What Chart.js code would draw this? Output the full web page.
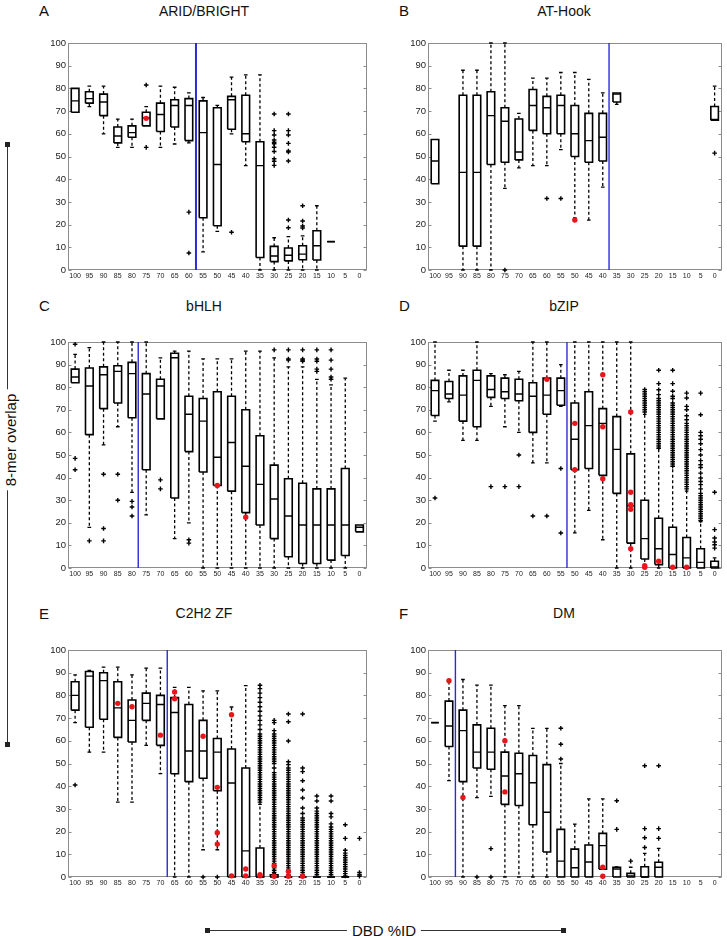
<!DOCTYPE html>
<html><head><meta charset="utf-8">
<script src="https://cdn.jsdelivr.net/npm/chart.js@4.4.1/dist/chart.umd.min.js"></script>
<style>
html,body{margin:0;padding:0;background:#fff;}
body{width:727px;height:936px;position:relative;overflow:hidden;font-family:'Liberation Sans',Arial,Helvetica,sans-serif;}
canvas{position:absolute;}
.t{position:absolute;line-height:1;white-space:nowrap;color:#111;}
.title{font-size:14px;width:200px;text-align:center;}
.letter{font-size:15px;}
.axlbl{font-size:15px;background:#fff;transform:translate(-50%,-50%);}
.ln{position:absolute;background:#333;}
.sq{position:absolute;width:5px;height:5px;background:#222;}
</style></head><body>
<div class="ln" style="left:7px;top:144px;width:1.4px;height:600px;"></div>
<div class="sq" style="left:5px;top:142px;"></div>
<div class="sq" style="left:5px;top:742px;"></div>
<div class="t axlbl" style="left:10px;top:440px;padding:0 4px;transform:translate(-50%,-50%) rotate(-90deg);">8-mer overlap</div>
<div class="ln" style="left:207px;top:929.5px;width:356px;height:1.4px;"></div>
<div class="sq" style="left:205px;top:928px;"></div>
<div class="sq" style="left:561px;top:928px;"></div>
<div class="t axlbl" style="left:384px;top:930px;padding:0 5px;">DBD %ID</div>
<script>
// ---------------- data ----------------
const CATS = ['100','95','90','85','80','75','70','65','60','55','50','45','40','35','30','25','20','15','10','5','0'];
const Y_TICKS = [0,10,20,30,40,50,60,70,80,90,100];
const TITLES = ['ARID/BRIGHT','AT-Hook','bHLH','bZIP','C2H2 ZF','DM'];
const LETTERS = ['A','B','C','D','E','F'];

// A: ARID/BRIGHT
const A_lo  = [69.5, 72, 60, 54, 54, 63.5, 54, 55.5, 56, 8, 17, 60, 46, 0, 0, 0, 0, 0, 12.5, null, null];
const A_q1  = [69.5, 73.5, 68, 56, 58.5, 63.5, 61, 63, 57, 23, 19.5, 62, 56.5, 5.5, 3.7, 4, 4.5, 4.4, 12.5, null, null];
const A_med = [74.5, 75.5, 74, 59, 60.5, 67, 68.5, 72.5, 72.5, 60.5, 46.5, 75, 60, 46, 6.2, 6.5, 7, 10.7, 12.5, null, null];
const A_q3  = [80, 78.5, 77.5, 63, 63.5, 69.5, 73.5, 75, 75.5, 74.5, 71.5, 76.5, 77, 56.5, 10.4, 9.7, 10.7, 17.3, 12.5, null, null];
const A_hi  = [80, 81, 81, 66.5, 66.5, 72, 81, 80.5, 78, 76, 72.5, 85, 86, 86, 14.2, 14.7, 15, 28.3, 12.5, null, null];
const A_out = [[],[],[],[],[],[81.5,54],[],[],[25.5,7.5],[],[],[16.6],[],[],
  [68.7,61.4,59.5,57.3,56.3,55.6,54.1,52.2,49,47.9,46.1],
  [68.7,61.4,59.5,55.8,52.4,52,48,22,18.6],
  [28.3,21.6,19.4,18.5],[],[],[],[]];
const A_red = [[],[],[],[],[],[66.8],[],[],[],[],[],[],[],[],[],[],[],[],[],[],[]];
const A_blue = 8.5;

// B: AT-Hook
const B_lo  = [38, null, 0, 0, 0, 36, 45, 46, 46, 53, 23, 22, 36.5, 73, null, null, null, null, null, null, 66];
const B_q1  = [38, null, 10.5, 10.5, 46.5, 47.5, 48.5, 61.5, 60, 60, 50, 47.5, 48, 74, null, null, null, null, null, null, 66];
const B_med = [48, null, 43, 43, 68, 65.5, 52, 72.5, 71.5, 72.5, 60, 57, 58.5, 77.5, null, null, null, null, null, null, 66.3];
const B_q3  = [57.5, null, 77, 77, 78.5, 71.5, 66.5, 79.5, 76.5, 77, 72.5, 69, 69, 78, null, null, null, null, null, null, 72];
const B_hi  = [57.5, null, 88, 88, 100, 100, 69, 84.5, 84.5, 87, 87, 84, 78, 78, null, null, null, null, null, null, 81];
const B_out = [[],[],[],[],[],[0],[],[],[31.5],[31.5],[],[],[],[],[],[],[],[],[],[],[51.5]];
const B_red = [[],[],[],[],[],[],[],[],[],[],[22],[],[],[],[],[],[],[],[],[],[]];
const B_blue = 12.45;

// C: bHLH
const C_lo  = [82, 18, 54.5, 62.5, 33.5, 23.5, 66, 13, 20, 0, 0, 0, 0, 0, 0, 0, 0, 0, 0, 0, 16];
const C_q1  = [82, 59, 70.5, 73, 66.5, 43.5, 66, 31, 51.5, 42.5, 36.5, 34, 24.5, 19, 13, 5, 2, 2, 3.5, 5.5, 16];
const C_med = [84.5, 80.5, 85.5, 87, 86, 77, 80.5, 93, 68, 65, 49, 55.5, 45, 37, 30.5, 23, 19, 19, 19, 19, 18];
const C_q3  = [88, 88.5, 89, 89.5, 91, 86, 83.5, 95, 76, 75, 78, 76, 70, 58.5, 45.5, 39.5, 37.5, 35, 35, 44, 19];
const C_hi  = [94.5, 97.5, 100, 100, 100, 100, 93, 96, 96, 92.5, 92.5, 92.5, 96, 96, 93, 89, 89, 83.5, 81, 84, 19];
const C_out = [[99,48.5,43.5],[12],[41.5,17.5,12],[41.5,30],[29.5,27,23],[],[39,35],[],[12.5,11],[],[],[],[],[],
  [96.5],[96.5,92.5,92],[96.5,92.5,92,91.5],[96.5,92.5,91.5,88,87],[96.5,92,88,84.5,83.5],[],[]];
const C_red = [[],[],[],[],[],[],[],[],[],[],[36.5],[],[22.5],[],[],[],[],[],[],[],[]];
const C_blue = 4.44;

// D: bZIP
const D_lo  = [65, 73.5, 56.5, 56.5, 71.5, 62.5, 60, 46.5, 46.5, 71.5, 15.5, 25.5, 12.5, 0, 0, 0, 0, 0, 0, 0, 0];
const D_q1  = [67.5, 75, 65, 62.5, 75.5, 75, 74, 60, 68, 72, 43.5, 44, 41, 33, 11, 4, 1.5, 0, 0, 0, 0];
const D_med = [78.5, 77, 76.5, 83, 79, 78, 77, 76, 76.5, 78.5, 57, 63, 64, 52.5, 27.5, 13, 8.5, 6, 4.5, 2.5, 0.5];
const D_q3  = [83, 82.5, 85, 87.5, 85, 84, 83.5, 82, 84, 84, 73, 78, 70.5, 67, 50.5, 30, 22, 18, 13.5, 8.5, 3];
const D_hi  = [100, 87.5, 87.5, 100, 86, 85.5, 87, 100, 100, 90, 100, 100, 100, 100, 100, 68, 53, 45, 34, 20.5, 4.5];
const D_out = [[31],[],[],[],[36],[36],[50,36],[23],[23],[44,15.5],[],[],[],[],[],
  [79,78,77,76,75,74,73,72,71,70,69],
  [87.5,81.6,78.9,76.7,75,74,73,72,71,70,69,68,67,66,65,64,63,62,61,60,59,58,57,56,55,54,53],
  [87.5,81.6,78.2,76,75,73,72,71,70,69,68,67,66,65,64,63,62,61,60,59,58,57,56,55,54,53,52,51,50,49,48,47,46,45],
  [77.4,75.2,71.5,70,67.4,65.6,64,63,62,61,60,59,58,57,56,55,54,53,52,51,50,49,48,47,46,45,44,43,42,41,40,39,38,37,36,35],
  [77.4,67.8,60,58.5,57,55,52.4,50,47.5,45.7,44.5,42,39.8,38.3,36.9,35,33,32,31,30,29,28,27,26,25,24,23,22,21],
  [33.5,17,13.3,11.5,10.3,8.8]];
const D_red = [[],[],[],[],[],[],[],[],[83.5],[],[64,43.5],[],[85.5,62.5,39.5],[],[69,33.5,28,26,8.5],[1,0.3],[3],[0.3],[0.3],[],[]];
const D_blue = 9.44;

// E: C2H2 ZF
const E_lo  = [68, 55, 55, 33, 33, 58, 45.5, 0, 0, 12, 12, 0, 0, 0, 0, 0, 0, 0, 0, 0, null];
const E_q1  = [73.5, 66, 69.5, 61.5, 59.5, 69, 58, 45.5, 42, 43.5, 38, 0, 0, 0, 0, 0, 0, 0, 0, 0, null];
const E_med = [80, 88.5, 86.5, 74.5, 69, 76.5, 76, 72.5, 55.5, 55.5, 55, 41.4, 11.5, 0, 0, 0, 0, 0, 0, 0, null];
const E_q3  = [86, 90.5, 90, 86, 78, 81, 80, 79, 76, 69, 61, 56.4, 48, 12.8, 1, 0, 0, 0, 0, 0, null];
const E_hi  = [89, 91, 92.5, 92.5, 89, 92, 92, 83.5, 83.5, 82, 82, 74.9, 84.3, 32, 1.5, 0, 0, 0, 0, 0, null];
const E_out = [[40.5],[],[],[],[],[],[],[],[],[0],[0],[],[],
  [84.5,83,81,79,77,75,73,71,69,67,65,63,62,61,60,59,58,57,56,55,54,53,52,51,50,49,48,47,46,45,44,43,42,41,40,39,38,37,36,35,34,33],
  [69,68,64.5,63,62,61,60,59,58,57,56,55,54,53,52,51,50,48,46,45,44,43,42,41,40,39,38,37,36,35,34,33,32,31,30,29,28,27,26,25,24,23,22,21,20,19,18,17,16,15,14,13,12,11,10,9,8,7,6,5,4,3,2],
  [71.8,68.4,59.9,50.8,49.5,48,47,46,45,44,43,42,41,40,39,38,37,36,35,34,33,32,31,30,29,28,27,26,25,24,23,22,21,20,19,18,17,16,15,14,13,12,11,10,9,8,7,6,5,4,3,2,1],
  [71.8,48,46.4,42.4,38.3,34.8,30.4,28,26,25,24,23,22,21,20,19,18,17,16,15,14,13,12,11,10,9,8,7,6,5,4,3,2,1],
  [35.7,33.5,30.4,29,28,27,26,25,24,23,22,21,20,19,18,17,16,15,14,13,12,11,10,9,8,7,6,5,4,3,2,1],
  [35.7,33.5,28,26.5,23.4,22,21,20,19,18,17,16,15,14,13,12,11,10,9,8,7,6,5,4,3,2,1],
  [23,17,11.8,10.5,9.5,8.5,7.5,6.5,5.5,4.5,3.5,2.5,1.5,0.5],
  [17,2,1,0.3]];
const E_red = [[],[],[],[76.5],[75],[],[62.5],[81.5,78.5],[],[62],[39.5,19.5,14.5],[71.5,0.5],[3.5,0.5],[1,0.5],[5,0.3],[2.5,0.3],[0.3],[],[],[],[]];
const E_blue = 6.48;

// F: DM
const F_lo  = [68, 42.5, 0, 35, 35.5, 0, 0, 0, 0, 0, 0, 0, 3.4, 0, 0, 0, 0, null, null, null, null];
const F_q1  = [68, 57.5, 42, 48, 47.5, 32, 31.5, 23, 11, 0, 0, 0, 3.4, 0, 0, 0, 0, null, null, null, null];
const F_med = [68, 66.5, 64.5, 55, 55, 44.5, 45.5, 41.5, 28.5, 7, 4.1, 6.6, 13.8, 3.5, 0.5, 0, 4.3, null, null, null, null];
const F_q3  = [68, 77.5, 73.5, 67, 65.5, 55, 54.5, 53.5, 49.5, 21, 12.3, 14.1, 19.2, 4.3, 1.6, 4.5, 6.5, null, null, null, null];
const F_hi  = [68, 86, 87, 84.5, 84.5, 75.5, 75.5, 65.5, 65.5, 50, 23.3, 34.4, 34.4, 4.5, 4.3, 10.4, 12.6, null, null, null, null];
const F_out = [[],[],[],[0],[12.5,0],[],[],[],[],[65.5,58.5,52],[],[],[],[33.6,21],[7],[49,21.3,17.3,13],[49,21.3,17],[],[],[],[]];
const F_red = [[],[86.5],[35],[],[],[60,37.5],[],[],[],[],[],[],[4.3,0.3],[],[],[],[],[],[],[],[]];
const F_blue = 1.46;

// ---------------- layout / style ----------------
const PANELS = [
  {lo:A_lo,q1:A_q1,med:A_med,q3:A_q3,hi:A_hi,out:A_out,red:A_red,blue:A_blue},
  {lo:B_lo,q1:B_q1,med:B_med,q3:B_q3,hi:B_hi,out:B_out,red:B_red,blue:B_blue},
  {lo:C_lo,q1:C_q1,med:C_med,q3:C_q3,hi:C_hi,out:C_out,red:C_red,blue:C_blue},
  {lo:D_lo,q1:D_q1,med:D_med,q3:D_q3,hi:D_hi,out:D_out,red:D_red,blue:D_blue},
  {lo:E_lo,q1:E_q1,med:E_med,q3:E_q3,hi:E_hi,out:E_out,red:E_red,blue:E_blue},
  {lo:F_lo,q1:F_q1,med:F_med,q3:F_q3,hi:F_hi,out:F_out,red:F_red,blue:F_blue}
];
const COLS = [{cl:28, cw:344, padR:4, titleX:204, letterX:39},{cl:388, cw:339, padR:1, titleX:564, letterX:399}];
const ROWS = [{top:43, bottom:270, base:15.5},{top:342, bottom:568, base:310.5},{top:650, bottom:877, base:617.8}];
const BLUE_W = [2, 1.4, 1.4, 1.4, 1.4, 1.4];
const HALF_BOX = 0.27, HALF_CAP = 0.13;
const PAD_T = 8, PAD_B = 4, X_AX_H = 14, Y_AX_W = 40;

Chart.defaults.font.family = "'Liberation Sans', Arial, Helvetica, sans-serif";
Chart.defaults.color = '#1a1a1a';

const framePlugin = {
  id: 'frame',
  beforeDatasetsDraw(chart) {
    const {ctx, chartArea: a, scales} = chart;
    ctx.save();
    ctx.strokeStyle = '#8c8c8c';
    ctx.lineWidth = 1;
    const l = Math.round(a.left) + 0.5, r = Math.round(a.right) - 0.5;
    const t = Math.round(a.top) + 0.5, b = Math.round(a.bottom) - 0.5;
    ctx.strokeRect(l, t, r - l, b - t);
    ctx.beginPath();
    scales.y.ticks.forEach(tk => {
      const y = Math.round(scales.y.getPixelForValue(tk.value)) + 0.5;
      ctx.moveTo(l, y); ctx.lineTo(l + 3, y);
      ctx.moveTo(r, y); ctx.lineTo(r - 3, y);
    });
    ctx.stroke();
    ctx.restore();
  }
};

function addText(cls, txt, left, top, extra) {
  const d = document.createElement('div');
  d.className = 't ' + cls;
  d.textContent = txt;
  d.style.left = left + 'px';
  d.style.top = top + 'px';
  if (extra) Object.assign(d.style, extra);
  document.body.appendChild(d);
}

PANELS.forEach((P, k) => {
  const col = COLS[k % 2], row = ROWS[Math.floor(k / 2)];
  const cv = document.createElement('canvas');
  const h = PAD_T + (row.bottom - row.top) + X_AX_H + PAD_B;
  cv.width = col.cw; cv.height = h;
  cv.style.left = col.cl + 'px';
  cv.style.top = (row.top - PAD_T) + 'px';
  cv.style.width = col.cw + 'px'; cv.style.height = h + 'px';
  document.body.appendChild(cv);

  addText('title', TITLES[k], col.titleX - 100, row.base - 11.85);
  addText('letter', LETTERS[k], col.letterX, row.base + 0.5 - 12.7);

  const box = [], med = [], whisk = [], caps = [], outs = [], reds = [];
  CATS.forEach((c, i) => {
    if (P.q1[i] !== null) {
      box.push({x:i-HALF_BOX,y:P.q1[i]},{x:i+HALF_BOX,y:P.q1[i]},{x:i+HALF_BOX,y:P.q3[i]},{x:i-HALF_BOX,y:P.q3[i]},{x:i-HALF_BOX,y:P.q1[i]},{x:i,y:null});
      med.push({x:i-HALF_BOX,y:P.med[i]},{x:i+HALF_BOX,y:P.med[i]},{x:i,y:null});
      if (P.hi[i] > P.q3[i]) {
        whisk.push({x:i,y:P.q3[i]},{x:i,y:P.hi[i]},{x:i,y:null});
        caps.push({x:i-HALF_CAP,y:P.hi[i]},{x:i+HALF_CAP,y:P.hi[i]},{x:i,y:null});
      }
      if (P.lo[i] < P.q1[i]) {
        whisk.push({x:i,y:P.q1[i]},{x:i,y:P.lo[i]},{x:i,y:null});
        caps.push({x:i-HALF_CAP,y:P.lo[i]},{x:i+HALF_CAP,y:P.lo[i]},{x:i,y:null});
      }
    }
    P.out[i].forEach(v => outs.push({x:i,y:v}));
    P.red[i].forEach(v => reds.push({x:i,y:v}));
  });

  const lineDs = (data, w, dash) => ({type:'line', data, borderColor:'#000', borderWidth:w, borderDash:dash||[], pointRadius:0, pointHitRadius:0, spanGaps:false, tension:0, fill:false, borderJoinStyle:'miter', clip:false});

  new Chart(cv, {
    type: 'scatter',
    data: {datasets: [
      {type:'scatter', data:reds, pointStyle:'circle', pointRadius:2.7, pointBackgroundColor:'#e8161b', pointBorderColor:'#e8161b', pointBorderWidth:0, clip:false},
      lineDs(med, 1.4),
      lineDs(box, 1.6),
      lineDs(caps, 1.3),
      lineDs(whisk, 1.3, [3, 2.5]),
      {type:'scatter', data:outs, pointStyle:'cross', pointRadius:2.3, pointBorderColor:'#000', pointBorderWidth:1.4, clip:false},
      {type:'line', data:[{x:P.blue,y:0},{x:P.blue,y:100}], borderColor:'#2b2bd6', borderWidth:BLUE_W[k], pointRadius:0, fill:false}
    ]},
    options: {
      responsive:false, animation:false, devicePixelRatio:1, events:[],
      layout:{padding:{top:PAD_T, bottom:PAD_B, left:0, right:col.padR}},
      plugins:{legend:{display:false}, tooltip:{enabled:false}},
      scales: {
        x: {type:'linear', min:-0.5, max:CATS.length - 0.5,
            afterBuildTicks: s => { s.ticks = CATS.map((c, i) => ({value:i})); },
            afterFit: s => { s.height = X_AX_H; },
            ticks:{callback: v => CATS[v], font:{size:7}, padding:2, autoSkip:false, maxRotation:0, minRotation:0, color:'#222'},
            grid:{display:false, drawTicks:false}, border:{display:false}},
        y: {type:'linear', min:0, max:100,
            afterBuildTicks: s => { s.ticks = Y_TICKS.map(v => ({value:v})); },
            afterFit: s => { s.width = Y_AX_W; },
            ticks:{callback: v => String(v), font:{size:9.5}, padding:2, color:'#222'},
            grid:{display:false, drawTicks:false}, border:{display:false}}
      }
    },
    plugins:[framePlugin]
  });
});
</script>
</body></html>
